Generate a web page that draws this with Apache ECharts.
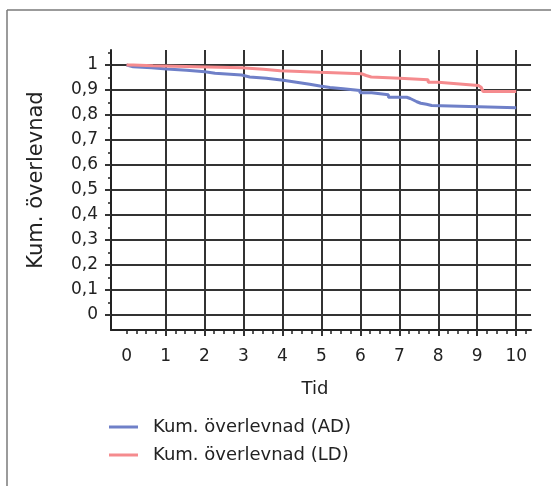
<!DOCTYPE html>
<html>
<head>
<meta charset="utf-8">
<script src="https://cdn.jsdelivr.net/npm/echarts@6/dist/echarts.min.js"></script>
<style>
  html, body { margin: 0; padding: 0; background: #fff; }
  #chart { width: 551px; height: 486px; }
</style>
</head>
<body>
<div id="chart"></div>
<script>
// Kaplan-Meier estimates: event times (years) and survival after each event
const timesAD = [0, 0.04, 0.17, 0.64, 1.03, 1.54, 2.01, 2.27, 2.95, 3.16, 3.59, 4.02, 4.36, 4.70, 4.96, 5.22, 5.56, 5.99, 6.29, 6.72, 7.19, 7.28, 7.36, 7.45, 7.55, 7.70, 7.83, 8.55, 10.0];
const survAD  = [1.0, 0.993, 0.989, 0.984, 0.979, 0.973, 0.967, 0.960, 0.952, 0.947, 0.939, 0.931, 0.923, 0.916, 0.910, 0.905, 0.898, 0.889, 0.881, 0.871, 0.866, 0.860, 0.853, 0.847, 0.843, 0.838, 0.835, 0.829, 0.829];

const timesLD = [0, 0.17, 0.68, 1.80, 2.95, 3.51, 3.94, 4.96, 6.03, 6.15, 6.28, 7.01, 7.74, 8.00, 8.47, 9.03, 9.10, 9.15, 10.0];
const survLD  = [1.0, 0.997, 0.993, 0.989, 0.983, 0.977, 0.971, 0.965, 0.958, 0.952, 0.947, 0.941, 0.931, 0.925, 0.918, 0.911, 0.903, 0.894, 0.894];

const seriesNames = ['Kum. överlevnad (AD)', 'Kum. överlevnad (LD)'];
const seriesColors = ['#6f80c8', '#f58b8e'];

const xTickLabels = [0, 1, 2, 3, 4, 5, 6, 7, 8, 9, 10];
const yTickLabels = [0, 0.1, 0.2, 0.3, 0.4, 0.5, 0.6, 0.7, 0.8, 0.9, 1];

const xName = 'Tid';
const yName = 'Kum. överlevnad';

// axis helpers: quarter-year minor ticks, half-step minor ticks on the y axis
const xMinor = [];
for (let i = 0; i <= 41; i++) xMinor.push(i / 4);
const xMajor = xTickLabels.filter(v => v > 0);
const yMinor = [];
for (let i = 0; i <= 10; i++) yMinor.push(+(i / 10 + 0.05).toFixed(2));

const TICK_FONT = 'DejaVu Sans';
const TEXT_FONT = 'DejaVu Sans';
const INK = '#222';
const GRID = '#333';

const X_MIN = -0.4, X_MAX = 10.38;
const Y_MIN = -0.06, Y_MAX = 1.06;

function pairs(xs, ys) { return xs.map((x, i) => [x, ys[i]]); }

const chart = echarts.init(document.getElementById('chart'), null, { renderer: 'canvas' });

chart.setOption({
  animation: false,
  backgroundColor: '#fff',
  graphic: [
    { type: 'line', shape: { x1: 7, y1: 10, x2: 551, y2: 10 }, style: { stroke: '#7a7a7a', lineWidth: 1.5 } },
    { type: 'line', shape: { x1: 7, y1: 10, x2: 7, y2: 486 }, style: { stroke: '#7a7a7a', lineWidth: 1.5 } }
  ],
  grid: { left: 111, top: 50, width: 420, height: 280, containLabel: false },
  xAxis: [
    {
      type: 'value', min: X_MIN, max: X_MAX, position: 'bottom',
      axisLine: { show: true, onZero: false, lineStyle: { color: INK, width: 2 } },
      axisTick: { show: true, customValues: xMinor, length: 4, lineStyle: { color: INK, width: 1.5 } },
      axisLabel: {
        show: true, customValues: xTickLabels, margin: 18,
        fontFamily: TICK_FONT, fontSize: 17, color: INK
      },
      splitLine: { show: false },
      name: xName, nameLocation: 'middle', nameGap: 50,
      nameTextStyle: { fontFamily: TEXT_FONT, fontSize: 18, color: INK, padding: [0, 12, 0, 0] }
    },
    {
      type: 'value', min: X_MIN, max: X_MAX, position: 'bottom',
      axisLine: { show: false, onZero: false },
      axisTick: { show: true, customValues: xMajor, length: 6, lineStyle: { color: GRID, width: 2 } },
      axisLabel: { show: false },
      splitLine: { show: true, lineStyle: { color: GRID, width: 2 } }
    }
  ],
  yAxis: [
    {
      type: 'value', min: Y_MIN, max: Y_MAX, position: 'left',
      axisLine: { show: true, onZero: false, lineStyle: { color: INK, width: 2 } },
      axisTick: { show: true, customValues: yMinor, length: 3, lineStyle: { color: INK, width: 1.5 } },
      axisLabel: {
        show: true, customValues: yTickLabels, margin: 13,
        fontFamily: TICK_FONT, fontSize: 17, color: INK,
        formatter: v => String(+v.toFixed(2)).replace('.', ',')
      },
      splitLine: { show: false },
      name: yName, nameLocation: 'middle', nameGap: 64,
      nameTextStyle: { fontFamily: TEXT_FONT, fontSize: 21, color: INK, padding: [0, 0, 0, 20] }
    },
    {
      type: 'value', min: Y_MIN, max: Y_MAX, position: 'left',
      axisLine: { show: false, onZero: false },
      axisTick: { show: true, customValues: yTickLabels, length: 6, lineStyle: { color: GRID, width: 2 } },
      axisLabel: { show: false },
      splitLine: { show: true, lineStyle: { color: GRID, width: 2 } }
    }
  ],
  legend: {
    orient: 'vertical', left: 104, top: 412,
    itemWidth: 29, itemHeight: 3, itemGap: 8, icon: 'rect',
    data: seriesNames,
    textStyle: { fontFamily: TEXT_FONT, fontSize: 18, color: INK, padding: [0, 0, 0, 10], lineHeight: 20 }
  },
  series: [
    {
      name: seriesNames[0], type: 'line', step: 'end', showSymbol: false,
      xAxisIndex: 0, yAxisIndex: 0,
      data: pairs(timesAD, survAD),
      color: seriesColors[0],
      lineStyle: { color: seriesColors[0], width: 3 }
    },
    {
      name: seriesNames[1], type: 'line', step: 'end', showSymbol: false,
      xAxisIndex: 0, yAxisIndex: 0,
      data: pairs(timesLD, survLD),
      color: seriesColors[1],
      lineStyle: { color: seriesColors[1], width: 3 }
    }
  ]
});
</script>
</body>
</html>
